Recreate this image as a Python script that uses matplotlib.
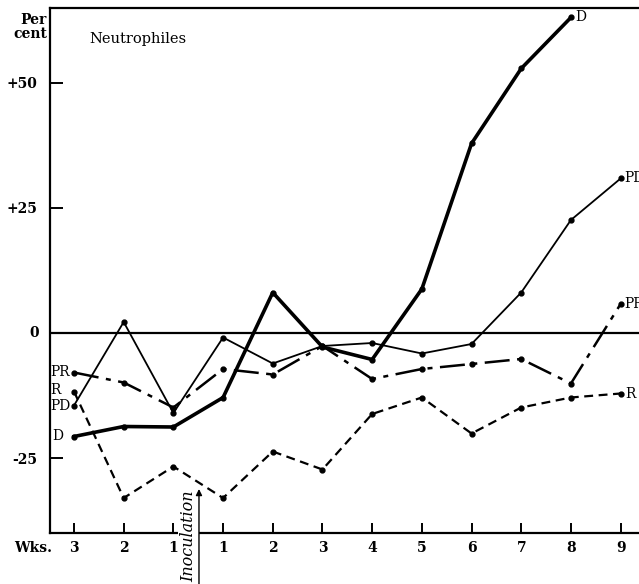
import matplotlib
matplotlib.use('Agg')
from matplotlib import pyplot as plt

# weeks before (3, 2, 1) and after (1..9) inoculation
week_labels = ['3', '2', '1', '1', '2', '3', '4', '5', '6', '7', '8', '9']
weeks = list(range(len(week_labels)))

# per cent change of neutrophiles
d_vals = [-20.7, -18.7, -18.8, -12.9, 8.1, -2.8, -5.3, 8.8, 37.9, 52.9, 63.1]
pd_vals = [-14.5, 2.2, -16.0, -0.9, -6.1, -2.6, -2.0, -4.1, -2.2, 8.1, 22.6, 30.9]
pr_vals = [-7.9, -9.9, -14.9, -7.2, -8.3, -2.6, -9.2, -7.2, -6.2, -5.2, -10.1, 5.8]
r_vals = [-11.7, -33.0, -26.7, -33.0, -23.7, -27.3, -16.2, -12.9, -20.1, -14.9, -12.9, -12.1]

y_ticks = [50, 25, -25]
y_tick_labels = ['+50', '+25', '-25']

plt.rcParams['font.family'] = 'DejaVu Serif'

fig = plt.figure(figsize=(6.39, 5.84), dpi=100)
ax = fig.add_axes([50 / 639, 51 / 584, 1 - 50 / 639, 525 / 584])
ax.set_xlim(-0.483, 11.37)
ax.set_ylim(-40, 65)

ax.axhline(0, color='black', lw=1.6)

ax.plot(weeks[:len(d_vals)], d_vals, color='black', lw=2.6, marker='o', ms=3.5)
ax.plot(weeks, pd_vals, color='black', lw=1.3, marker='o', ms=3.5)
ax.plot(weeks, pr_vals, color='black', lw=1.8, marker='o', ms=3.5,
        dashes=(10, 3, 2, 3))
ax.plot(weeks, r_vals, color='black', lw=1.6, marker='o', ms=3.5,
        dashes=(4, 2.5))

ax.spines['right'].set_visible(False)
for s in ['left', 'bottom', 'top']:
    ax.spines[s].set_linewidth(1.6)

ax.set_xticks(weeks)
ax.set_xticklabels(week_labels, fontsize=10, fontweight='bold')
ax.set_yticks(y_ticks)
ax.set_yticklabels(y_tick_labels, fontsize=10, fontweight='bold')
ax.tick_params(axis='x', direction='in', length=7, width=1.4, pad=6)
ax.tick_params(axis='y', direction='in', length=9, width=1.4, pad=9)

# zero label (the zero line takes the place of a tick)
ax.text(-0.7, 0, '0', fontsize=10, fontweight='bold', ha='right', va='center',
        clip_on=False)

ax.text(-0.034, 0.99, 'Per\ncent', transform=ax.transAxes,
        fontsize=10, fontweight='bold', ha='center', va='top',
        multialignment='right', linespacing=1.0)
ax.text(0.066, 0.94, 'Neutrophiles', transform=ax.transAxes,
        fontsize=10.5, ha='left', va='center')
ax.text(0.003, -0.016, 'Wks.', transform=ax.transAxes, fontsize=10,
        fontweight='bold', ha='right', va='top')

# series labels at the left ends
ax.text(-0.47, pr_vals[0], 'PR', fontsize=10, va='center', ha='left')
ax.text(-0.47, r_vals[0] + 0.3, 'R', fontsize=10, va='center', ha='left')
ax.text(-0.47, pd_vals[0] - 0.2, 'PD', fontsize=10, va='center', ha='left')
ax.text(-0.43, d_vals[0], 'D', fontsize=10, va='center', ha='left')

# series labels at the right ends (cut by the page edge, as in the original)
ax.text(10.08, d_vals[-1], 'D', fontsize=10, va='center', ha='left')
ax.text(11.08, pd_vals[-1], 'PD', fontsize=10, va='center', ha='left')
ax.text(11.08, pr_vals[-1], 'PR', fontsize=10, va='center', ha='left')
ax.text(11.1, r_vals[-1], 'R', fontsize=10, va='center', ha='left')

# inoculation marker
ax.annotate('', xy=(2.515, -31.2), xytext=(2.515, -52),
            arrowprops=dict(arrowstyle='-|>', color='black', lw=1.0,
                            mutation_scale=9, shrinkA=0, shrinkB=0),
            annotation_clip=False, zorder=6)
ax.text(2.31, -40.6, 'Inoculation', rotation=90, fontsize=11.5,
        fontstyle='italic', ha='center', va='center', clip_on=False,
        zorder=5, bbox=dict(facecolor='white', edgecolor='none', pad=1.5))

fig.savefig('out.png', dpi=100, facecolor='white')
